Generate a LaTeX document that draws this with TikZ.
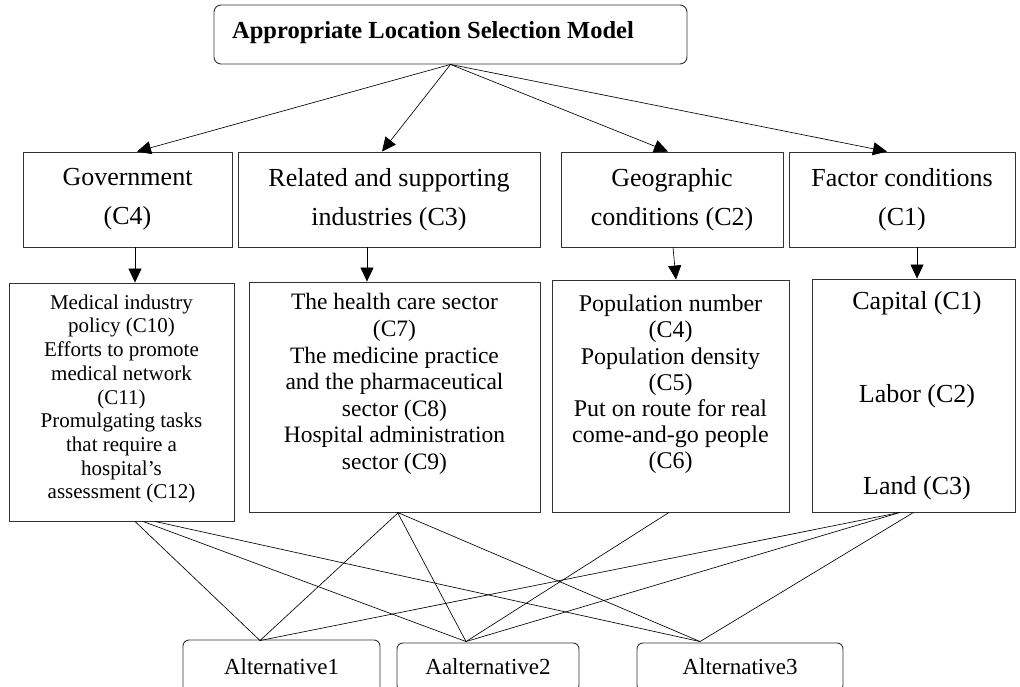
\documentclass[tikz,border=0pt]{standalone}
\usepackage{fontspec}
\setmainfont{Liberation Serif}
\usetikzlibrary{arrows.meta,calc}
\begin{document}
\begin{tikzpicture}[x=1pt,y=-1pt,
  box/.style={draw=black!80, line width=0.9pt, inner sep=0pt, align=center},
  rbox/.style={box, rounded corners=7pt},
  crit/.style={box, font=\fontsize{26}{39}\selectfont, minimum height=95pt},
  txt/.style={inner sep=0pt, align=center},
  arr/.style={-{Triangle[length=14pt,width=13pt]}, line width=0.65pt},
  lnk/.style={line width=0.65pt}]
\useasboundingbox (0,0) rectangle (1020,687);

% goal
\node[rbox, minimum width=473pt, minimum height=59pt] (top) at (450.5,34.5) {};
\node[txt, font=\fontsize{24.5}{28}\selectfont\bfseries] (topt) at (433,33) {Appropriate Location Selection Model};

% criteria
\node[crit, minimum width=209pt] (c4) at (127.5,199.5) {Government\\(C4)};
\node[crit, minimum width=302pt] (c3) at (389,199.5) {Related and supporting\\industries (C3)};
\node[crit, minimum width=222pt] (c2) at (672,199.5) {Geographic\\conditions (C2)};
\node[crit, minimum width=226pt] (c1) at (902,199.5) {Factor conditions\\(C1)};

% sub-criteria boxes
\node[box, minimum width=225pt, minimum height=238pt] (s4) at (121.5,402) {};
\node[box, minimum width=291pt, minimum height=230pt] (s3) at (394.5,397) {};
\node[box, minimum width=237pt, minimum height=232pt] (s2) at (670.5,396) {};
\node[box, minimum width=203pt, minimum height=233pt] (s1) at (913.5,395.5) {};

% sub-criteria texts
\node[txt, font=\fontsize{21}{23.7}\selectfont] (s4t) at (121.5,399) {Medical industry\\policy (C10)\\Efforts to promote\\medical network\\(C11)\\Promulgating tasks\\that require a\\hospital’s\\assessment (C12)};
\node[txt, font=\fontsize{23.5}{26.6}\selectfont] (s3t) at (394.5,384) {The health care sector\\(C7)\\The medicine practice\\and the pharmaceutical\\sector (C8)\\Hospital administration\\sector (C9)};
\node[txt, font=\fontsize{24}{26.2}\selectfont] (s2t) at (670.5,384.5) {Population number\\(C4)\\Population density\\(C5)\\Put on route for real\\come-and-go people\\(C6)};
\node[txt, font=\fontsize{26}{30}\selectfont] (s1t) at (917,396) {Capital (C1)\\[62.5pt]Labor (C2)\\[62.5pt]Land (C3)};

% alternatives
\node[rbox, rounded corners=6pt, minimum width=197pt, minimum height=54pt, font=\fontsize{23}{26}\selectfont] (a1) at (281.5,667) {Alternative1};
\node[rbox, rounded corners=6pt, minimum width=182pt, minimum height=48pt, font=\fontsize{23}{26}\selectfont] (a2) at (488,667) {Aalternative2};
\node[rbox, rounded corners=6pt, minimum width=206pt, minimum height=48pt, font=\fontsize{23}{26}\selectfont] (a3) at (740,667) {Alternative3};

% goal -> criteria
\draw[arr] (top.south) -- ($(c4.north)+(9.5,0)$);
\draw[arr] (top.south) -- ($(c3.north)+(-7,0)$);
\draw[arr] (top.south) -- ($(c2.north)+(-4,0)$);
\draw[arr] (top.south) -- ($(c1.north)+(-15,0)$);

% criteria -> sub-criteria
\draw[arr] ($(c4.south)+(7.5,0)$) -- ($(s4.north)+(13.5,0)$);
\draw[arr] ($(c3.south)+(-22,0)$) -- ($(s3.north)+(-27.5,0)$);
\draw[arr] ($(c2.south)+(1,0)$) -- ($(s2.north)+(5.5,0)$);
\draw[arr] ($(c1.south)+(15,0)$) -- ($(s1.north)+(3.5,0)$);

% sub-criteria -> alternatives
\coordinate (A1) at ($(a1.north)+(-21.5,1)$);
\coordinate (A2) at ($(a2.north)+(-22,-1)$);
\coordinate (A3) at ($(a3.north)+(-40,-1)$);
\draw[lnk] ($(s4.south)+(13.5,0)$) -- (A1);
\draw[lnk] ($(s4.south)+(21.5,0)$) -- (A2);
\draw[lnk] ($(s4.south)+(33.5,0)$) -- (A3);
\draw[lnk] ($(s3.south)+(4,0)$) -- (A1);
\draw[lnk] ($(s3.south)+(3,0)$) -- (A2);
\draw[lnk] ($(s3.south)+(3,0)$) -- (A3);
\draw[lnk] ($(s2.south)+(-1.5,0)$) -- (A2);
\draw[lnk] ($(s1.south)+(-13.5,0)$) -- (A1);
\draw[lnk] ($(s1.south)+(-13.5,0)$) -- (A2);
\draw[lnk] ($(s1.south)+(0,0)$) -- (A3);
\end{tikzpicture}
\end{document}
